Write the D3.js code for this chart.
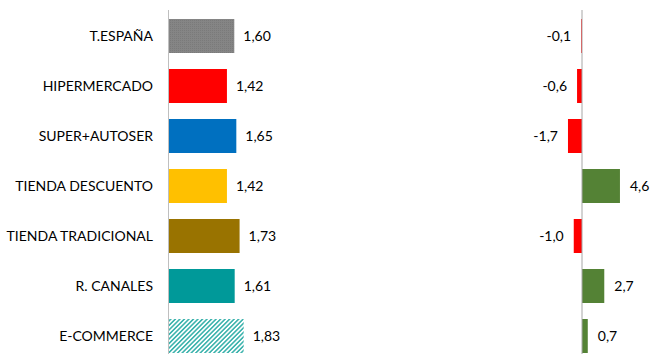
<!DOCTYPE html>
<html><head><meta charset="utf-8">
<script src="https://cdn.jsdelivr.net/npm/d3@7"></script>
<style>body{margin:0;background:#fff;}svg{display:block;}</style>
</head><body>
<script>
const categories = ["T.ESPAÑA","HIPERMERCADO","SUPER+AUTOSER","TIENDA DESCUENTO","TIENDA TRADICIONAL","R. CANALES","E-COMMERCE"];
const shareValues = [1.60, 1.42, 1.65, 1.42, 1.73, 1.61, 1.83];
const changeValues = [-0.1, -0.6, -1.7, 4.6, -1.0, 2.7, 0.7];
const barColors = ["url(#dots)","#FF0000","#0070C0","#FFC000","#997300","#009999","url(#hatch)"];

const W = 651, H = 354;
const font = "Lato, 'Open Sans', sans-serif";
const svg = d3.select("body").append("svg").attr("width", W).attr("height", H);
const defs = svg.append("defs");
const dots = defs.append("pattern").attr("id","dots").attr("patternUnits","userSpaceOnUse").attr("width",2).attr("height",2);
dots.append("rect").attr("width",2).attr("height",2).attr("fill","#858585");
dots.append("rect").attr("width",1).attr("height",1).attr("fill","#7a7a7a");
const hatch = defs.append("pattern").attr("id","hatch").attr("patternUnits","userSpaceOnUse").attr("width",3.2).attr("height",3.2).attr("patternTransform","rotate(45)");
hatch.append("rect").attr("width",3.2).attr("height",3.2).attr("fill","#fff");
hatch.append("rect").attr("width",1.6).attr("height",3.2).attr("fill","#3fb4ae");

const y = d3.scaleBand().domain(categories).range([11, 361]).paddingInner(0.32).paddingOuter(0.16);
const xL = d3.scaleLinear().domain([0, 2]).range([169, 250.6]);
const xR = d3.scaleLinear().domain([-2, 5]).range([565.5, 623.25]);

const fmt = (v, d) => v.toFixed(d).replace(".", ",");

svg.append("line").attr("x1", xL(0)-0.5).attr("x2", xL(0)-0.5).attr("y1", 10).attr("y2", H).attr("stroke","#BFBFBF");

svg.append("g").selectAll("text").data(categories).join("text")
  .attr("x", 153).attr("y", d => y(d) + y.bandwidth()/2 + 5)
  .attr("text-anchor","end").attr("font-family", font).attr("font-size", 14).attr("fill","#000").text(d => d);

svg.append("g").selectAll("rect").data(shareValues).join("rect")
  .attr("x", xL(0)).attr("y", (d,i) => y(categories[i]))
  .attr("width", d => xL(d) - xL(0)).attr("height", y.bandwidth())
  .attr("fill", (d,i) => barColors[i]);
svg.append("g").selectAll("text").data(shareValues).join("text")
  .attr("x", d => xL(d) + 9).attr("y", (d,i) => y(categories[i]) + y.bandwidth()/2 + 5)
  .attr("font-family", font).attr("font-size", 14).attr("fill","#000").text(d => fmt(d,2));

svg.append("g").selectAll("rect").data(changeValues).join("rect")
  .attr("x", d => d < 0 ? xR(d) : xR(0)).attr("y", (d,i) => y(categories[i]))
  .attr("width", d => Math.abs(xR(d) - xR(0))).attr("height", y.bandwidth())
  .attr("fill", d => d < 0 ? "#FF0000" : "#548235");
svg.append("line").attr("x1", xR(0)).attr("x2", xR(0)).attr("y1", 10).attr("y2", H).attr("stroke","#A6A6A6");
svg.append("g").selectAll("text").data(changeValues).join("text")
  .attr("x", d => d < 0 ? xR(d) - 10 : xR(d) + 10)
  .attr("text-anchor", d => d < 0 ? "end" : "start")
  .attr("y", (d,i) => y(categories[i]) + y.bandwidth()/2 + 5)
  .attr("font-family", font).attr("font-size", 14).attr("fill","#000").text(d => fmt(d,1));
</script>
</body></html>
